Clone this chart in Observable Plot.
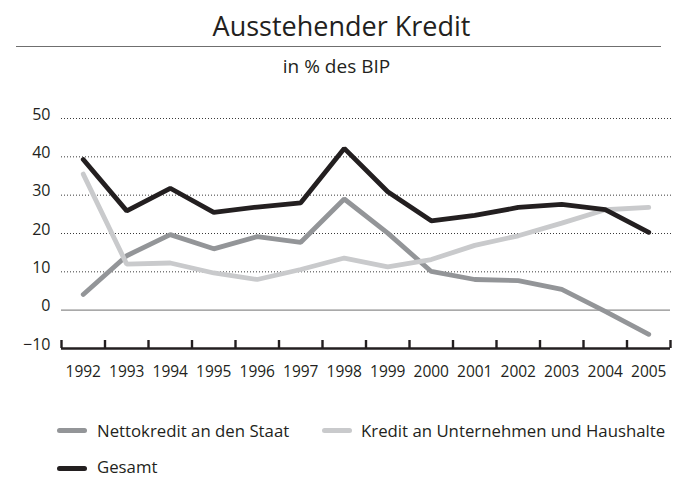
<!DOCTYPE html>
<html>
<head>
<meta charset="utf-8">
<script src="https://cdn.jsdelivr.net/npm/d3@7"></script>
<script src="https://cdn.jsdelivr.net/npm/@observablehq/plot@0.6"></script>
<style>
  html, body { margin: 0; padding: 0; background: #fff; }
  #wrap { position: relative; width: 680px; height: 477px; font-family: "Open Sans", sans-serif; color: #231f20; overflow: hidden; }
  .abs { position: absolute; white-space: nowrap; }
  #title { left: 0; width: 683px; text-align: center; top: 8.5px; font-size: 27px; line-height: 34px; }
  #rule { left: 16px; width: 645px; top: 46px; height: 0; border-top: 1.6px solid #6f6f6f; }
  #subtitle { left: 0; width: 673px; text-align: center; top: 53.5px; font-size: 19px; line-height: 24px; }
  #chart { left: 0; top: 100px; }
  .lg { position: absolute; font-size: 16.8px; line-height: 17px; white-space: nowrap; }
  .sw { position: absolute; width: 30px; height: 5px; border-radius: 3px; }
</style>
</head>
<body>
<div id="wrap">
  <div id="title" class="abs"></div>
  <div id="rule" class="abs"></div>
  <div id="subtitle" class="abs"></div>
  <div id="chart" class="abs"></div>
  <div id="legend"></div>
</div>
<script>
const title = "Ausstehender Kredit";
const subtitle = "in % des BIP";
const years = [1992, 1993, 1994, 1995, 1996, 1997, 1998, 1999, 2000, 2001, 2002, 2003, 2004, 2005];
const seriesNames = ["Nettokredit an den Staat", "Kredit an Unternehmen und Haushalte", "Gesamt"];
const netto  = [4.1, 14.2, 19.7, 16.0, 19.2, 17.7, 29.0, 20.1, 10.1, 8.0, 7.7, 5.4, -0.3, -6.3];
const kredit = [35.5, 12.0, 12.3, 9.7, 8.0, 10.6, 13.6, 11.3, 13.2, 16.9, 19.4, 22.7, 26.2, 26.8];
const gesamt = [39.3, 25.9, 31.8, 25.5, 26.9, 28.0, 42.2, 30.9, 23.3, 24.7, 26.8, 27.6, 26.2, 20.3];
const yTicks = [-10, 0, 10, 20, 30, 40, 50];
const colors = ["#939598", "#c9cacc", "#231f20"];

document.getElementById("title").textContent = title;
document.getElementById("subtitle").textContent = subtitle;

const seriesValues = [netto, kredit, gesamt];
const data = seriesNames.flatMap((name, s) => years.map((year, i) => ({name, year, value: seriesValues[s][i]})));
const boundaries = [...years.map(y => y - 0.5), years[years.length - 1] + 0.5];

const plot = Plot.plot({
  width: 680,
  height: 290,
  marginLeft: 61,
  marginRight: 10,
  marginTop: 18,
  marginBottom: 42,
  style: {fontFamily: "'Open Sans', sans-serif", fontSize: "15px", color: "#231f20", background: "transparent", overflow: "visible"},
  x: {domain: [boundaries[0], boundaries[boundaries.length - 1]], label: null},
  y: {domain: [-10, 50], label: null},
  color: {domain: seriesNames, range: colors},
  marks: [
    Plot.gridY(yTicks.filter(d => d > 0), {stroke: "#3a3a3a", strokeOpacity: 1, strokeWidth: 1, strokeDasharray: "1 2", insetRight: -3}),
    Plot.ruleY([0], {stroke: "#8c8c8c", strokeWidth: 1.3}),
    Plot.ruleY([-10], {stroke: "#231f20", strokeWidth: 2.6}),
    Plot.ruleX(boundaries, {y1: -10, y2: -10, insetTop: -8, stroke: "#231f20", strokeWidth: 2.4}),
    Plot.axisY(yTicks, {tickSize: 0, tickPadding: 11, dy: -4, fontSize: 16, label: null, tickFormat: d => d < 0 ? "\u2212" + Math.abs(d) : String(d)}),
    Plot.axisX(years, {tickSize: 0, tickPadding: 17, fontSize: 15.5, label: null, tickFormat: d => String(d)}),
    Plot.line(data, {x: "year", y: "value", z: "name", stroke: "name", strokeWidth: 4.8, strokeLinejoin: "miter", strokeLinecap: "round"})
  ]
});
document.getElementById("chart").appendChild(plot);

const legend = document.getElementById("legend");
const items = [
  {name: seriesNames[0], color: colors[0], sx: 57, tx: 97, y: 421.5, c: 430.7},
  {name: seriesNames[1], color: colors[1], sx: 322, tx: 361, y: 421.5, c: 430.7},
  {name: seriesNames[2], color: colors[2], sx: 57, tx: 97, y: 457.5, c: 468}
];
for (const it of items) {
  const sw = document.createElement("div");
  sw.className = "sw";
  sw.style.left = it.sx + "px";
  sw.style.top = (it.c - 2.5) + "px";
  sw.style.background = it.color;
  legend.appendChild(sw);
  const t = document.createElement("div");
  t.className = "lg";
  t.style.left = it.tx + "px";
  t.style.top = it.y + "px";
  t.textContent = it.name;
  legend.appendChild(t);
}
</script>
</body>
</html>
